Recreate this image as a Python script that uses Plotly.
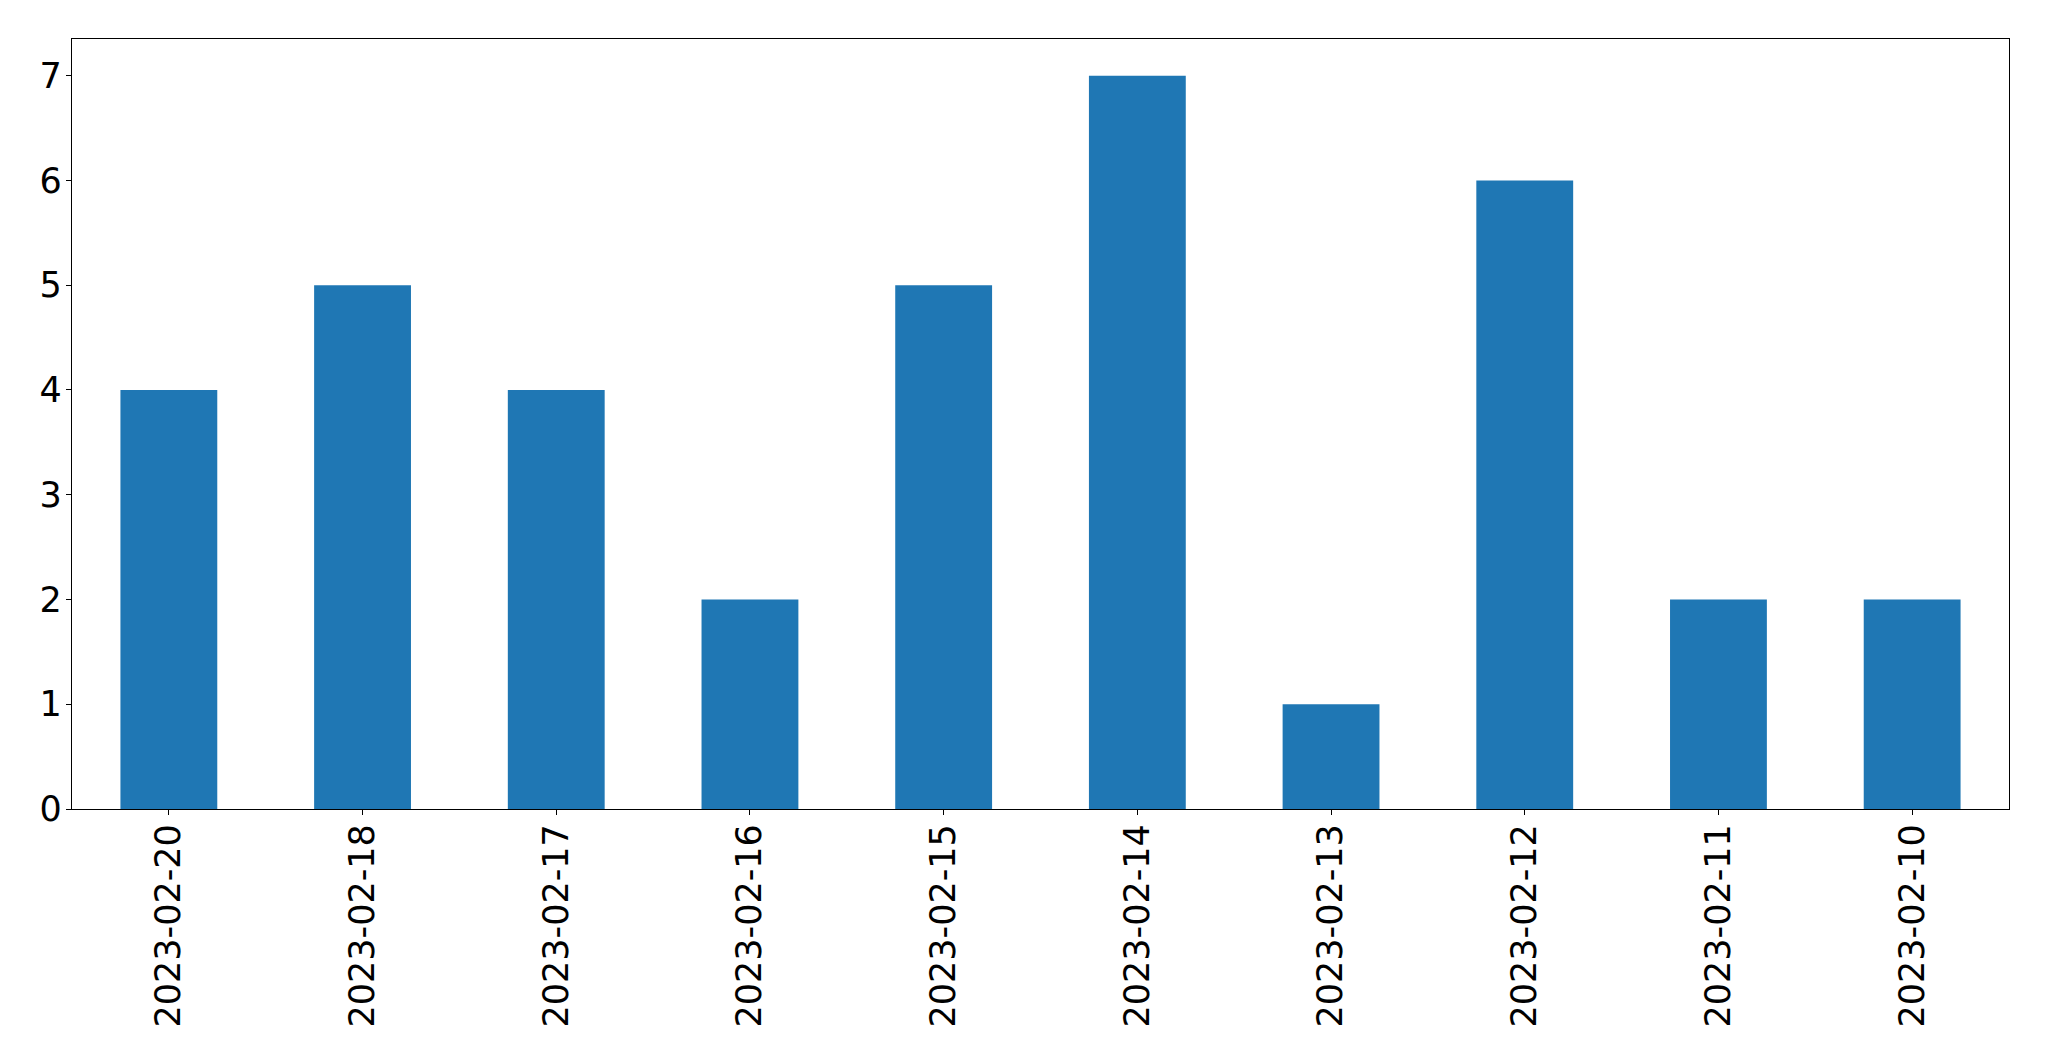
import plotly.graph_objects as go

dates = ["2023-02-20", "2023-02-18", "2023-02-17", "2023-02-16", "2023-02-15",
         "2023-02-14", "2023-02-13", "2023-02-12", "2023-02-11", "2023-02-10"]
counts = [4, 5, 4, 2, 5, 7, 1, 6, 2, 2]
y_ticks = [0, 1, 2, 3, 4, 5, 6, 7]

fig = go.Figure(go.Bar(x=dates, y=counts, width=0.5, marker_color="#1f77b4",
                       marker_line_width=0))

font = dict(family="DejaVu Sans", size=35, color="black")
fig.update_layout(
    width=2049, height=1061,
    margin=dict(l=72, r=40, t=39, b=252),
    paper_bgcolor="white", plot_bgcolor="white",
    showlegend=False,
    font=font,
)
fig.update_xaxes(type="category", range=[-0.5, 9.5], tickangle=-90,
                 showline=True, mirror=True, linecolor="black", linewidth=1.3,
                 ticks="outside", ticklen=5, tickcolor="black", tickwidth=1.3,
                 showgrid=False, zeroline=False, tickfont=font,
                 ticklabelstandoff=-5)
fig.update_yaxes(range=[0, 7.35], tickvals=y_ticks,
                 showline=True, mirror=True, linecolor="black", linewidth=1.3,
                 ticks="outside", ticklen=5, tickcolor="black", tickwidth=1.3,
                 showgrid=False, zeroline=False, tickfont=font,
                 ticklabelstandoff=-3)

fig.write_html("out.html")
